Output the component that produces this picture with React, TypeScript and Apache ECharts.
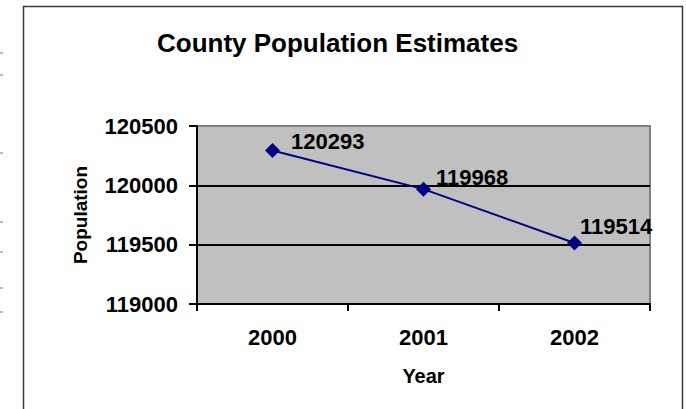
import React, { useEffect, useRef } from "react";
import * as echarts from "echarts";

const years = ["2000", "2001", "2002"];
const population = [120293, 119968, 119514];
const yMin = 119000;
const yMax = 120500;
const yStep = 500;

const FONT = "'Liberation Sans', Arial, Helvetica, sans-serif";
// per-point label nudges (style only)
const labelOffsets = [[6, -9], [0, -12], [-7, -17]];
// page-edge artifact dashes (style only)
const edgeMarksY = [53, 75, 153, 222, 252, 288, 312];

export default function App() {
  const ref = useRef<HTMLDivElement>(null);
  useEffect(() => {
    if (!ref.current) return;
    const chart = echarts.init(ref.current, undefined, { renderer: "svg" });
    const graphics: any[] = [
      {
        type: "rect",
        shape: { x: 23.5, y: 6.5, width: 659, height: 430 },
        style: { fill: "none", stroke: "#3a3a3a", lineWidth: 1.5 },
        silent: true,
      },
      ...edgeMarksY.map((y) => ({
        type: "line",
        shape: { x1: 0, y1: y, x2: 3, y2: y },
        style: { stroke: "#777", lineWidth: 1 },
        silent: true,
      })),
    ];
    chart.setOption({
      animation: false,
      backgroundColor: "#ffffff",
      title: {
        text: "County Population Estimates",
        left: 157,
        top: 30,
        padding: 0,
        textStyle: { fontFamily: FONT, fontSize: 26, fontWeight: "bold", color: "#000" },
      },
      graphic: graphics,
      grid: {
        left: 197,
        top: 126,
        right: 36,
        bottom: 105,
        show: true,
        backgroundColor: "#c0c0c0",
        borderColor: "#808080",
        borderWidth: 2,
      },
      xAxis: {
        type: "category",
        data: years,
        boundaryGap: true,
        name: "Year",
        nameLocation: "middle",
        nameGap: 62,
        nameTextStyle: { fontFamily: FONT, fontSize: 20, fontWeight: "bold", color: "#000" },
        axisLine: { lineStyle: { color: "#000", width: 2 } },
        axisTick: { show: true, length: 7, interval: 0, lineStyle: { color: "#000", width: 2 } },
        axisLabel: { fontFamily: FONT, fontSize: 22, fontWeight: "bold", color: "#000", margin: 22 },
        splitLine: { show: false },
      },
      yAxis: {
        type: "value",
        min: yMin,
        max: yMax,
        interval: yStep,
        name: "Population",
        nameLocation: "middle",
        nameGap: 107,
        nameTextStyle: { fontFamily: FONT, fontSize: 19, fontWeight: "bold", color: "#000" },
        axisLine: { show: true, lineStyle: { color: "#000", width: 2 } },
        axisTick: { show: true, length: 8, lineStyle: { color: "#000", width: 2 } },
        axisLabel: {
          fontFamily: FONT,
          fontSize: 22,
          fontWeight: "bold",
          color: "#000",
          margin: 19,
          formatter: (v: number) => String(v),
        },
        splitLine: {
          show: true,
          lineStyle: { color: ["#000", "#000", "#000", "#808080"], width: 2 },
        },
      },
      series: [
        {
          type: "line",
          data: population.map((v, i) => ({
            value: v,
            label: { offset: labelOffsets[i] },
          })),
          symbol: "diamond",
          symbolSize: 15,
          lineStyle: { color: "#000080", width: 2 },
          itemStyle: { color: "#000080" },
          label: {
            show: true,
            position: "right",
            distance: 5,
            fontFamily: FONT,
            fontSize: 22,
            fontWeight: "bold",
            color: "#000",
          },
        },
      ],
    });
    return () => chart.dispose();
  }, []);
  return (
    <div
      ref={ref}
      style={{ position: "fixed", left: 0, top: 0, width: 686, height: 409 }}
    />
  );
}
